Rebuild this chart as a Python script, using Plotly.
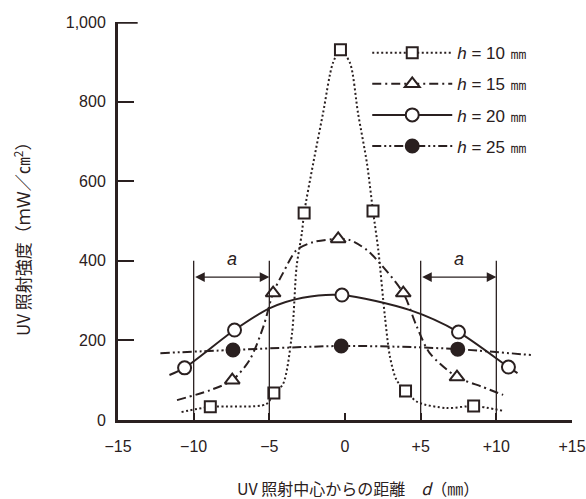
import plotly.graph_objects as go

INK = "#2a2020"

# ---- data ----
# markers (measured points)
h10_x = [-8.9, -4.7, -2.7, -0.3, 1.85, 4.0, 8.5]
h10_y = [33, 68, 520, 930, 525, 73, 35]
h15_x = [-7.45, -4.75, -0.45, 3.85, 7.4]
h15_y = [100, 319, 455, 319, 108]
h20_x = [-10.6, -7.3, -0.2, 7.5, 10.8]
h20_y = [131, 226, 314, 221, 133]
h25_x = [-7.4, -0.25, 7.45]
h25_y = [176, 186, 178]

# fitted curves
c10_x = [-10.8, -8.9, -5.2, -4.7, -4.1, -3.5, -3.2, -2.85, -2.7, -2.1, -1.45, -0.8, -0.3,
         0.33, 0.86, 1.45, 1.85, 2.2, 2.64, 2.97, 3.4, 4.0, 4.8, 6.7, 8.5, 10.45]
c10_y = [20, 33, 40, 68, 90, 218, 385, 470, 520, 645, 771, 897, 930,
         897, 771, 645, 525, 427, 259, 159, 101, 73, 45, 30, 35, 23]
c15_x = [-11.1, -8.9, -7.45, -6.3, -5.4, -4.75, -4.1, -3.2, -2.1, -0.45,
         0.33, 1.45, 2.3, 3.85, 4.75, 5.6, 7.4, 9.1, 10.45]
c15_y = [50, 75, 100, 151, 234, 319, 369, 427, 447, 455,
         452, 427, 394, 319, 234, 168, 108, 83, 63]
c20_x = [-11.6, -10.6, -7.3, -4.96, -2.8, -0.2, 4.3, 7.5, 10.8, 11.4]
c20_y = [113, 131, 226, 281, 307, 314, 276, 221, 133, 118]
c25_x = [-12.2, -7.4, -0.25, 4.5, 7.45, 12.4]
c25_y = [168, 176, 186, 183, 178, 163]

labels = ["<i>h</i> = 10 ㎜", "<i>h</i> = 15 ㎜", "<i>h</i> = 20 ㎜", "<i>h</i> = 25 ㎜"]

x_ticks = [-15, -10, -5, 0, 5, 10, 15]
x_tick_text = ["−15", "−10", "−5", "0", "+5", "+10", "+15"]
y_ticks = [0, 200, 400, 600, 800, 1000]
y_tick_text = ["0", "200", "400", "600", "800", "1,000"]

band_edges = [-10, -5, 5, 10]
band_top = 400
arrow_y = 359
band_label = "a"

# ---- styles ----
series = [
    dict(cx=c10_x, cy=c10_y, mx=h10_x, my=h10_y, dash="2px,2.5px", sym="square", fill="white", size=11),
    dict(cx=c15_x, cy=c15_y, mx=h15_x, my=h15_y, dash="9px,4px,2px,4px", sym="triangle-up", fill="white", size=13),
    dict(cx=c20_x, cy=c20_y, mx=h20_x, my=h20_y, dash="solid", sym="circle", fill="white", size=13),
    dict(cx=c25_x, cy=c25_y, mx=h25_x, my=h25_y, dash="9px,3px,2px,3px,2px,3px", sym="circle", fill=INK, size=13),
]

fig = go.Figure()
for i, s in enumerate(series):
    fig.add_trace(go.Scatter(x=s["cx"], y=s["cy"], mode="lines",
                             line=dict(color=INK, width=2, dash=s["dash"], shape="spline", smoothing=0.8),
                             showlegend=False, hoverinfo="skip", cliponaxis=False))
for i, s in enumerate(series):
    fig.add_trace(go.Scatter(x=s["mx"], y=s["my"], mode="markers",
                             marker=dict(symbol=s["sym"], size=s["size"], color=s["fill"],
                                         line=dict(color=INK, width=2)),
                             showlegend=False, cliponaxis=False))
for i, s in enumerate(series):
    fig.add_trace(go.Scatter(x=[None], y=[None], mode="lines+markers", name=labels[i],
                             legendgroup=str(i),
                             line=dict(color=INK, width=2, dash=s["dash"]),
                             marker=dict(symbol=s["sym"], size=s["size"], color=s["fill"],
                                         line=dict(color=INK, width=2))))

# bands "a"
for xe in band_edges:
    fig.add_shape(type="line", x0=xe, x1=xe, y0=0, y1=band_top, xref="x", yref="y",
                  line=dict(color=INK, width=1.3))
for (x0, x1) in [(band_edges[0], band_edges[1]), (band_edges[2], band_edges[3])]:
    fig.add_annotation(x=x1, y=arrow_y, ax=x0, ay=arrow_y, xref="x", yref="y", axref="x", ayref="y",
                       text="", showarrow=True, arrowhead=2, arrowside="end+start",
                       arrowsize=1.6, arrowwidth=1.2, arrowcolor=INK)
    fig.add_annotation(x=(x0 + x1) / 2, y=405, xref="x", yref="y", text="<i>" + band_label + "</i>",
                       showarrow=False, font=dict(size=18, color=INK, family="Liberation Sans"))

# thick top tick
fig.add_shape(type="line", x0=-15, x1=-13.7, y0=1000, y1=1000, xref="x", yref="y",
              line=dict(color=INK, width=3.5))

fig.add_annotation(text="UV 照射強度（ｍＷ／㎝<sup>2</sup>）", xref="paper", yref="paper",
                   x=(22 - 118) / 454, y=0.465, textangle=-90, showarrow=False,
                   xanchor="center", yanchor="middle",
                   font=dict(size=17, color=INK, family="Noto Sans CJK JP"))
fig.add_annotation(text="UV 照射中心からの距離　<i>d</i>（㎜）", xref="paper", yref="paper",
                   x=(358 - 118) / 454, y=(420 - 488) / 398, showarrow=False,
                   xanchor="center", yanchor="middle",
                   font=dict(size=16, color=INK, family="Noto Sans CJK JP"))

fig.update_layout(
    width=586, height=499,
    margin=dict(l=118, r=14, t=22, b=79, autoexpand=False),
    paper_bgcolor="white", plot_bgcolor="white",
    font=dict(family="Liberation Sans", size=16, color=INK),
    showlegend=True,
    legend=dict(x=0.549, y=0.967, xanchor="left", yanchor="top", bgcolor="rgba(0,0,0,0)",
                tracegroupgap=6, itemwidth=80, font=dict(size=17, color=INK)),
    xaxis=dict(range=[-15, 15], tickvals=x_ticks, ticktext=x_tick_text, showgrid=False, zeroline=False,
               showline=True, linewidth=3, linecolor=INK, ticks="inside", ticklen=7, tickwidth=1.5,
               tickcolor=INK, ticklabelstandoff=10, automargin=False),
    yaxis=dict(range=[0, 1000], tickvals=y_ticks, ticktext=y_tick_text, showgrid=False, zeroline=False,
               showline=True, linewidth=3, linecolor=INK, ticks="inside", ticklen=16, tickwidth=2,
               tickcolor=INK, ticklabelstandoff=6, automargin=False),
)

fig.write_html("out.html", config={"displayModeBar": False},
               post_script="document.body.style.margin='0';")
